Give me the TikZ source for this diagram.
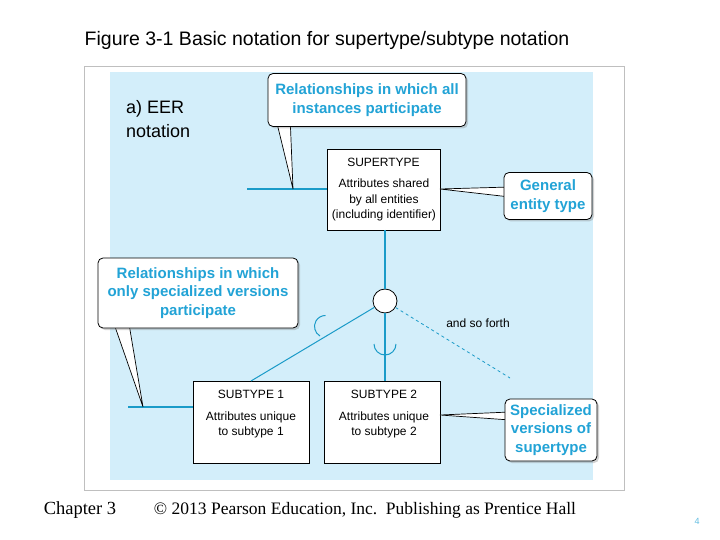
\documentclass[tikz,border=0pt]{standalone}
\usepackage{fontspec}
\setmainfont{Liberation Sans}
\newfontfamily\serifface{Liberation Serif}
\usetikzlibrary{shadows}
\definecolor{panelblue}{HTML}{D3EEFA}
\definecolor{linkblue}{HTML}{1A9BC8}
\definecolor{notecyan}{HTML}{22A3D6}
\tikzset{
  entbox/.style={draw=black,fill=white,line width=0.7pt},
  notebox/.style={draw=black,fill=white,rounded corners=5pt,line width=0.8pt,
    drop shadow={shadow xshift=2pt,shadow yshift=-2pt,opacity=0.35},
    text=notecyan,font=\bfseries\fontsize{15}{18.5}\selectfont,align=center,inner sep=3pt},
  wedge/.style={draw=black,fill=white,line width=0.7pt},
  link/.style={linkblue,line width=1.3pt}
}
\begin{document}
\begin{tikzpicture}[x=1pt,y=-1pt]
                \useasboundingbox (0,0) rectangle (720,540);
                \fill[white] (0,0) rectangle (720,540);
                % panel
                \draw[black!25,fill=white] (84,66) rectangle (624,490);
                \fill[panelblue] (110,72) rectangle (593,480);
                \node[anchor=center,font=\fontsize{19.5}{22}\selectfont] (title) at (327,40) {Figure 3-1 Basic notation for supertype/subtype notation};
                \node[anchor=north west,align=left,inner sep=0pt,font=\fontsize{18}{24}\selectfont] (part) at (126,100) {a) EER\\notation};
                % entities
                \draw[entbox] (327,149) rectangle (440,230);
                \node[font=\fontsize{12}{13}\selectfont] (supname) at (383.5,162) {SUPERTYPE};
                \node[font=\fontsize{12}{15.5}\selectfont,align=center] (supattr) at (384,200) {Attributes shared\\by all entities\\(including identifier)};
                \draw[entbox] (193,381) rectangle (309,463);
                \node[font=\fontsize{12}{13}\selectfont] (subaname) at (251,394) {SUBTYPE 1};
                \node[font=\fontsize{12}{15.5}\selectfont,align=center] (subaattr) at (251,425) {Attributes unique\\to subtype 1};
                \draw[entbox] (324,381) rectangle (440,463);
                \node[font=\fontsize{12}{13}\selectfont] (subbname) at (384,394) {SUBTYPE 2};
                \node[font=\fontsize{12}{15.5}\selectfont,align=center] (subbattr) at (384,425) {Attributes unique\\to subtype 2};
                \coordinate (suptop) at (385,230);
                \coordinate (subatop) at (251,381);
                \coordinate (subbtop) at (385,381);
                \coordinate (more) at (510,378);
                % links
                \node[draw=black,fill=white,circle,minimum size=24pt,inner sep=0pt,line width=0.8pt] (disc) at (385,301) {};
                \draw[link] (suptop) -- (disc) -- (subbtop);
                \draw[link,line width=1pt] (disc) -- (subatop);
                \draw[linkblue,dashed,line width=0.8pt] (disc) -- (more);
                \draw[linkblue,line width=1pt] (320,336) arc[start angle=120,end angle=270,radius=11];
                \draw[linkblue,line width=1pt] (374,344) arc[start angle=180,end angle=0,radius=11];
                \node[font=\fontsize{12}{13}\selectfont] (sofar) at (478,323) {and so forth};
                \coordinate (supl) at (247,189);
                \coordinate (subal) at (128,407);
                \draw[link] (supl) -- (327,189);
                \draw[link] (subal) -- (193,407);
                % callouts
                \draw[wedge] (275,115) -- (293,189) -- (290,115) -- cycle;
                \node[notebox,minimum width=198pt,minimum height=53pt] (allnote) at (367,100) {Relationships in which all\\instances participate};
                \draw[wedge] (510,187) -- (440,189) -- (510,197) -- cycle;
                \node[notebox,minimum width=88pt,minimum height=47pt] (gennote) at (548,196) {General\\entity type};
                \draw[wedge] (112,318) -- (143,407) -- (128,318) -- cycle;
                \node[notebox,minimum width=200pt,minimum height=70pt] (onlynote) at (198,293) {Relationships in which\\only specialized versions\\participate};
                \draw[wedge] (510,412) -- (440,415) -- (510,420) -- cycle;
                \node[notebox,minimum width=92pt,minimum height=62pt] (specnote) at (551,430) {Specialized\\versions of\\supertype};
                % footer
                \node[font=\serifface\fontsize{18.5}{20}\selectfont] (chap) at (80,510) {Chapter 3};
                \node[font=\serifface\fontsize{17.5}{20}\selectfont] (copy) at (365,510) {\textcopyright{} 2013 Pearson Education, Inc.\ \ Publishing as Prentice Hall};
                \node[font=\fontsize{9}{10}\selectfont,text=notecyan!70] (page) at (697,521) {4};
            \end{tikzpicture}
\end{document}
